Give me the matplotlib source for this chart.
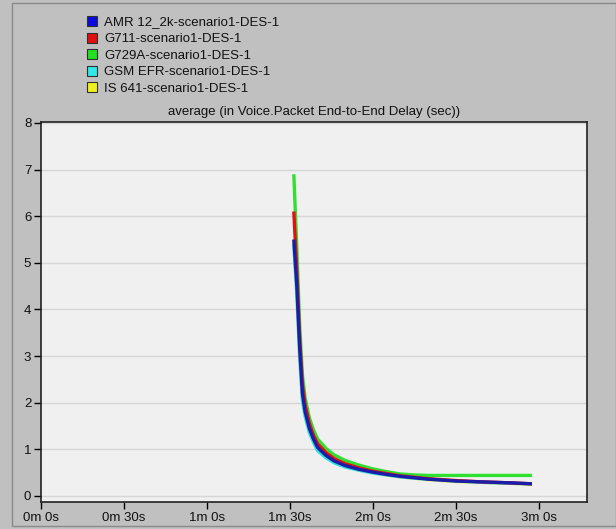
import matplotlib
matplotlib.use("Agg")
import matplotlib.pyplot as plt
from matplotlib.patches import Rectangle
from matplotlib.ticker import FixedLocator

plt.rcParams['font.family'] = ['Liberation Sans', 'DejaVu Sans']

# time in seconds
t = [91.4, 92.5, 93.5, 94.5, 95.5, 97, 98.5, 100, 103, 106, 110, 115, 120,
     125, 130, 135, 140, 150, 160, 170, 177.5]

amr   = [5.5, 4.5, 3.2, 2.2, 1.8, 1.45, 1.22, 1.04, 0.87, 0.75, 0.65, 0.57, 0.51,
         0.46, 0.42, 0.39, 0.36, 0.32, 0.30, 0.28, 0.26]
g711  = [6.1, 4.8, 3.4, 2.4, 1.95, 1.56, 1.3, 1.12, 0.93, 0.80, 0.69, 0.60, 0.53,
         0.48, 0.43, 0.40, 0.37, 0.33, 0.30, 0.28, 0.26]
g729a = [6.9, 5.3, 3.7, 2.6, 2.1, 1.68, 1.42, 1.22, 1.02, 0.88, 0.76, 0.66, 0.58,
         0.52, 0.47, 0.45, 0.44, 0.44, 0.44, 0.44, 0.44]
gsm   = [5.4, 4.3, 3.0, 2.05, 1.7, 1.36, 1.15, 0.97, 0.82, 0.71, 0.62, 0.55, 0.49,
         0.45, 0.41, 0.38, 0.36, 0.32, 0.29, 0.27, 0.26]
is641 = [5.45, 4.4, 3.1, 2.1, 1.75, 1.4, 1.18, 1.0, 0.84, 0.73, 0.63, 0.56, 0.50,
         0.45, 0.41, 0.38, 0.35, 0.31, 0.29, 0.27, 0.25]

labels = ["AMR 12_2k-scenario1-DES-1", "G711-scenario1-DES-1",
          "G729A-scenario1-DES-1", "GSM EFR-scenario1-DES-1",
          "IS 641-scenario1-DES-1"]
series = [amr, g711, g729a, gsm, is641]
line_colors = ["#1c1ca8", "#e01010", "#30e030", "#30e0e0", "#e8e820"]
legend_colors = ["#0a0ae0", "#e01010", "#20e020", "#30e8e8", "#f0f020"]

xticks = [0, 30, 60, 90, 120, 150, 180]
xticklabels = ["0m 0s", "0m 30s", "1m 0s", "1m 30s", "2m 0s", "2m 30s", "3m 0s"]
yticks = [0, 1, 2, 3, 4, 5, 6, 7, 8]

W, H = 616, 529
fig = plt.figure(figsize=(W / 100, H / 100), dpi=100, facecolor="#c0c0c0")

# outer frame
fig.patches.append(Rectangle((12 / W, 3 / H), (604) / W, (523) / H,
                             transform=fig.transFigure, fill=False,
                             edgecolor="#8a8a8a", lw=1.0))

ax = fig.add_axes([41 / W, (H - 502) / H, (587 - 41) / W, (502 - 122) / H])
ax.set_facecolor("#f0f0f0")
ax.set_xlim(0, 197.4)
ax.set_ylim(-0.13, 8.02)

for yv in yticks:
    ax.axhline(yv, color="#d6d6d6", lw=1.0, zorder=1)

order = [4, 3, 2, 1, 0]
for i in order:
    ax.plot(t, series[i], color=line_colors[i], lw=2.4, zorder=3,
            solid_capstyle="butt")

ax.xaxis.set_major_locator(FixedLocator(xticks))
ax.set_xticklabels(xticklabels)
ax.yaxis.set_major_locator(FixedLocator(yticks))
ax.set_yticklabels([str(v) for v in yticks])
ax.tick_params(axis="both", direction="out", length=5, width=1, color="black",
               labelsize=9.5, labelcolor="#111111", pad=2)
for s in ax.spines.values():
    s.set_color("#222222")
    s.set_linewidth(1.2)

fig.text(314 / W, 1 - 112 / H, "average (in Voice.Packet End-to-End Delay (sec))",
         ha="center", va="center", fontsize=9.5, color="#111111")

# legend
rows = [20.5, 37.5, 54, 70.5, 87]
for lab, c, yy in zip(labels, legend_colors, rows):
    fig.patches.append(Rectangle((87 / W, 1 - (yy + 5) / H), 10 / W, 10 / H,
                                 transform=fig.transFigure, facecolor=c,
                                 edgecolor="#303030", lw=0.8))
    fig.text(104 / W, 1 - (yy + 4.5) / H, lab, ha="left", va="baseline",
             fontsize=9.5, color="#111111")

fig.savefig("out.png", dpi=100, facecolor=fig.get_facecolor())
